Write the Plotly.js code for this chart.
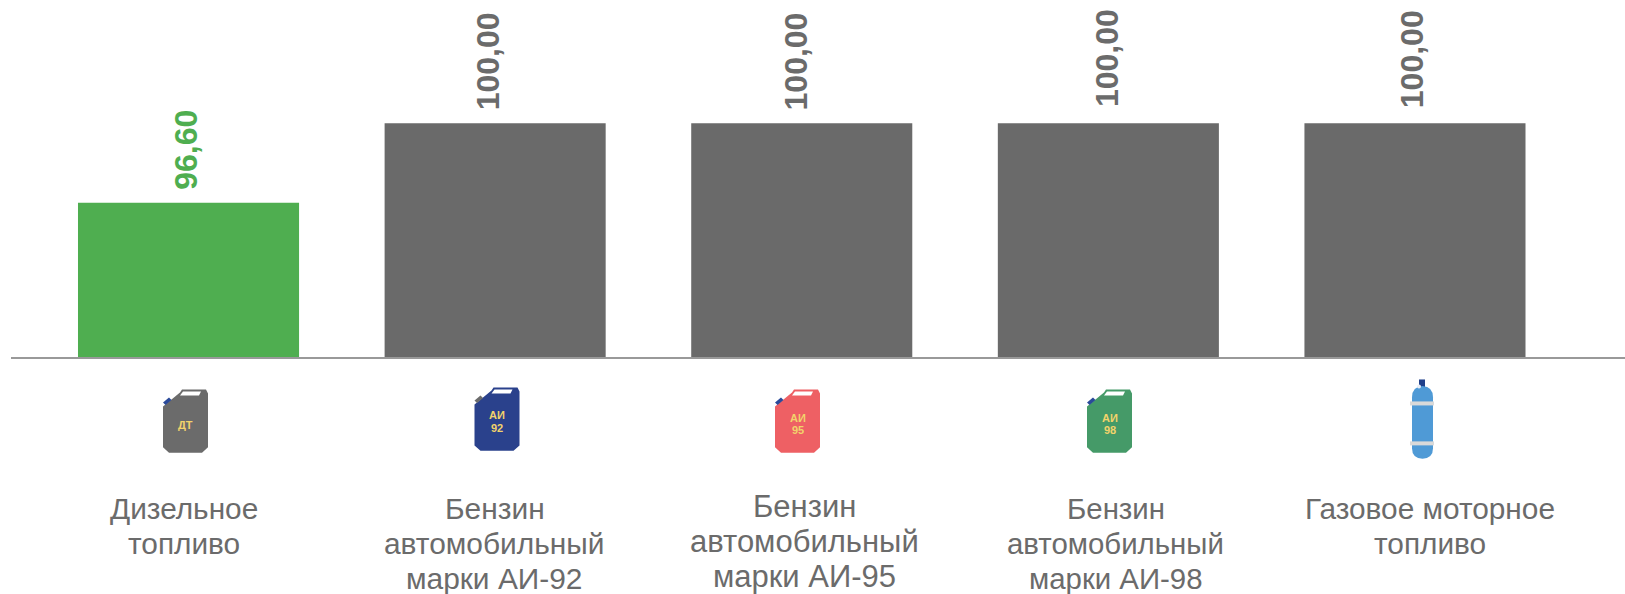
<!DOCTYPE html>
<html><head><meta charset="utf-8">
<script src="https://cdn.plot.ly/plotly-3.0.1.min.js"></script>
<style>html,body{margin:0;padding:0;background:#fff}</style></head>
<body><div id="chart" style="width:1625px;height:594px"></div>
<script>
const categories = ["Дизельное топливо","Бензин автомобильный марки АИ-92","Бензин автомобильный марки АИ-95","Бензин автомобильный марки АИ-98","Газовое моторное топливо"];
const labelLines = [["Дизельное","топливо"],["Бензин","автомобильный","марки АИ-92"],["Бензин","автомобильный","марки АИ-95"],["Бензин","автомобильный","марки АИ-98"],["Газовое моторное","топливо"]];
const values = [96.6,100,100,100,100];
const valueLabels = ["96,60","100,00","100,00","100,00","100,00"];
const barColors = ["#4fae50","#6a6a6a","#6a6a6a","#6a6a6a","#6a6a6a"];
const valueColors = ["#4fae50","#6b6b6b","#6b6b6b","#6b6b6b","#6b6b6b"];
const iconCaptions = [["ДТ"],["АИ","92"],["АИ","95"],["АИ","98"]];
const valueShiftX = [-2.5,-7,-5.5,-1.5,-3];
const valueShiftY = [11,11,11,14,13];
const labelShiftX = [-5,-0.5,3,7.5,15];
const labelFirstLine = [151,151,149,151.5,151];
const labelSizes = [29.8,29.9,31,29.4,29.8];

const W=1625, H=594, L=11, AX=357.5, LINE=35;
const px=x=>(x-L)/(W-L), py=y=>1-y/AX;
const P=(x,y)=>px(x)+','+py(y);
function shape(d,fill){return {type:'path',xref:'paper',yref:'paper',path:d,fillcolor:fill,line:{width:0},layer:'above'};}
function can(x,top,body,cap){
  const r=(a,b)=>P(x+a,top+b);
  return [
    shape('M'+r(0,17)+'L'+r(17,3)+'L'+r(19,0)+'L'+r(43,0)+'L'+r(45,4)+'L'+r(45,58)+'L'+r(39,63.5)+'L'+r(6,63.5)+'L'+r(0,58)+'Z',body),
    shape('M'+r(17,6)+'L'+r(20,2)+'L'+r(38,2)+'L'+r(36,6)+'Z','#ffffff'),
    shape('M'+r(0,13)+'L'+r(6,8)+'L'+r(8.5,10.5)+'L'+r(2.5,15.5)+'Z',cap)
  ];
}
const cylinder=(()=>{
  const r=(x,y)=>P(x,y);
  return [
    shape('M'+r(1419,380)+'L'+r(1425,380)+'L'+r(1425,388)+'L'+r(1419,388)+'Z','#1f3f8a'),
    shape('M'+r(1412,398)+'Q'+r(1412,387)+' '+r(1422.5,386.5)+'Q'+r(1433,387)+' '+r(1433,398)+'L'+r(1433,449)+'Q'+r(1433,459)+' '+r(1422.5,459.5)+'Q'+r(1412,459)+' '+r(1412,449)+'Z','#4f9ad6'),
    shape('M'+r(1410,402)+'L'+r(1434,402)+'L'+r(1434,406)+'L'+r(1410,406)+'Z','#d9d9d9'),
    shape('M'+r(1410,442)+'L'+r(1434,442)+'L'+r(1434,446)+'L'+r(1410,446)+'Z','#d9d9d9'),
    shape('M'+r(1417,387)+'Q'+r(1417,385)+' '+r(1419,385)+'Q'+r(1421,385)+' '+r(1421,387)+'Q'+r(1421,389)+' '+r(1419,389)+'Q'+r(1417,389)+' '+r(1417,387)+'Z','#e8eef7')
  ];
})();
const shapes=[
  ...can(163,390,'#6b6b6b','#2a4a9a'),
  ...can(474.5,388,'#2a418c','#6b6b6b'),
  ...can(775,390,'#ee6064','#2a4a9a'),
  ...can(1087,390,'#459a68','#2a4a9a'),
  ...cylinder
];
const iconCenter=[185.5,497,798,1110];
const iconTextY=[[425.5],[416,428.5],[419,431],[419,431]];
const font='"Liberation Sans", Arial, sans-serif';
const ann=[];
categories.forEach((c,i)=>{
  ann.push({x:c,y:values[i],xref:'x',yref:'y',text:valueLabels[i],showarrow:false,textangle:-90,xanchor:'center',yanchor:'bottom',xshift:valueShiftX[i],yshift:valueShiftY[i],font:{family:font,size:32,color:valueColors[i],weight:700}});
  labelLines[i].forEach((line,k)=>{
    ann.push({x:c,y:0,xref:'x',yref:'paper',text:line,showarrow:false,xanchor:'center',yanchor:'middle',xshift:labelShiftX[i],yshift:-labelFirstLine[i]-k*LINE,font:{family:font,size:labelSizes[i],color:'#6b6b6b'}});
  });
});
iconCaptions.forEach((lines,i)=>{
  lines.forEach((t,k)=>{
    ann.push({x:px(iconCenter[i]),y:py(iconTextY[i][k]),xref:'paper',yref:'paper',text:t,showarrow:false,xanchor:'center',yanchor:'middle',font:{family:font,size:11,color:'#f2d36b',weight:700}});
  });
});
Plotly.newPlot('chart',[{type:'bar',x:categories,y:values,marker:{color:barColors,line:{width:0}},hoverinfo:'skip'}],{
  width:W,height:H,margin:{l:L,r:0,t:0,b:H-AX,pad:0},
  paper_bgcolor:'#fff',plot_bgcolor:'#fff',bargap:0.279,showlegend:false,
  xaxis:{type:'category',range:[-0.579,4.685],showticklabels:false,ticks:'',showgrid:false,zeroline:false,showline:true,linecolor:'#999999',linewidth:2},
  yaxis:{range:[90,105.27],visible:false,showgrid:false,zeroline:false},
  annotations:ann,shapes:shapes
},{displayModeBar:false,staticPlot:true});
</script></body></html>
